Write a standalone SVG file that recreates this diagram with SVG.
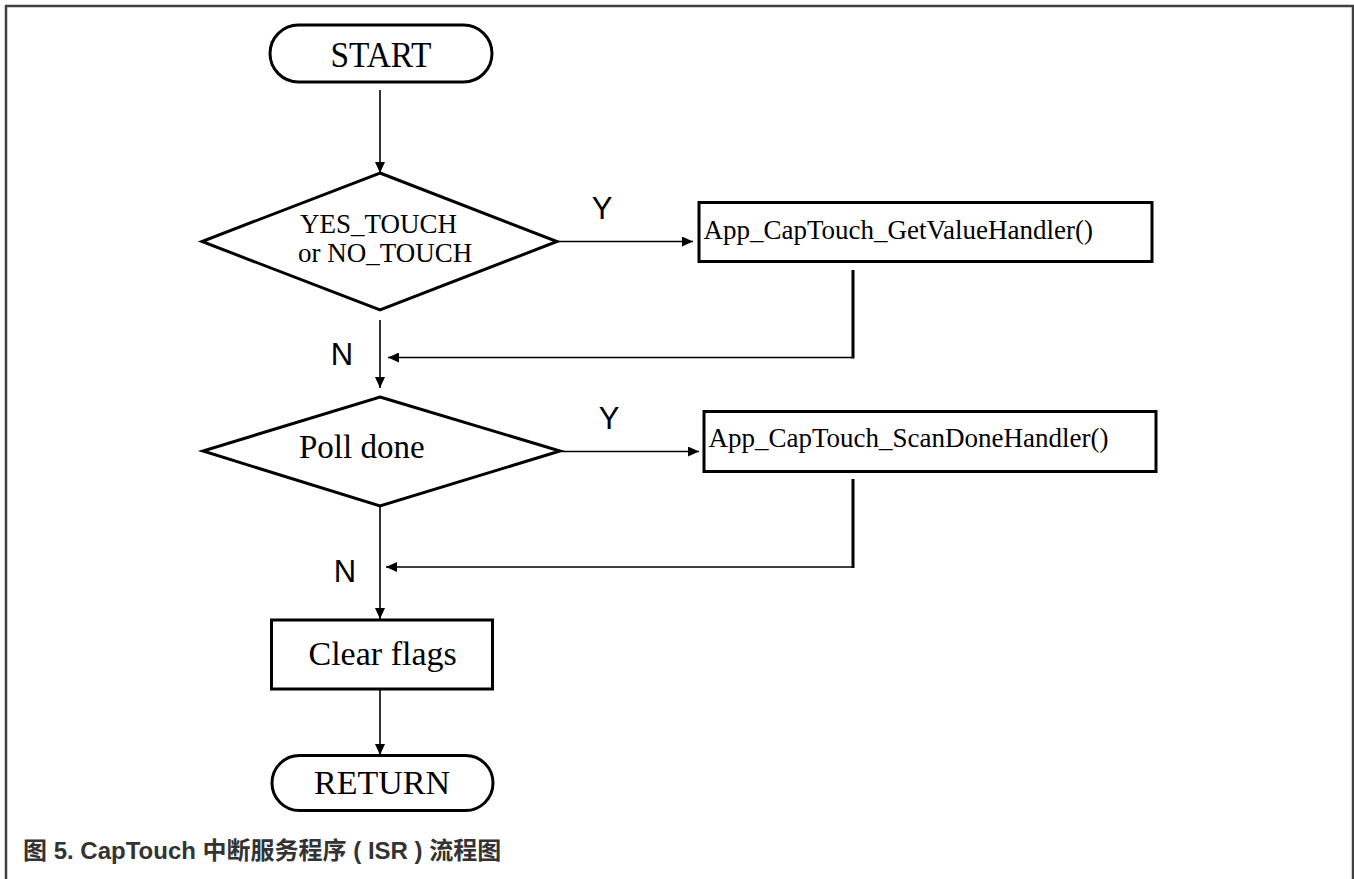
<svg xmlns="http://www.w3.org/2000/svg" width="1354" height="879" viewBox="0 0 1354 879">
<style>
.shape{fill:#fff;stroke:#000;stroke-width:3}
.t{font-family:"Liberation Serif","Times New Roman",serif;fill:#000}
.lbl{font-family:"Liberation Sans",Arial,sans-serif;fill:#000;font-size:31px}
.conn{fill:none;stroke:#000;stroke-width:1.6}
.thick{fill:none;stroke:#000;stroke-width:3}
</style>
<defs>
<marker id="arr" markerUnits="userSpaceOnUse" markerWidth="11" markerHeight="10" refX="11" refY="5" orient="auto">
<path d="M0,0 L11,5 L0,10 z" fill="#000"/>
</marker>
</defs>
<rect width="1354" height="879" fill="#fff"/>
<path d="M6,879 V6 H1353 V879" fill="none" stroke="#404040" stroke-width="2.5"/>

<g id="connectors">
<line class="conn" x1="380" y1="90" x2="380" y2="173" marker-end="url(#arr)"/>
<line class="conn" x1="558" y1="241.5" x2="693" y2="241.5" marker-end="url(#arr)"/>
<line class="thick" x1="853" y1="270" x2="853" y2="358.5"/>
<line class="conn" x1="853" y1="357.5" x2="388" y2="357.5" marker-end="url(#arr)"/>
<line class="conn" x1="380" y1="320" x2="380" y2="388" marker-end="url(#arr)"/>
<line class="conn" x1="562" y1="451.5" x2="699" y2="451.5" marker-end="url(#arr)"/>
<line class="thick" x1="853" y1="479" x2="853" y2="568"/>
<line class="conn" x1="853" y1="567" x2="386" y2="567" marker-end="url(#arr)"/>
<line class="conn" x1="380" y1="506" x2="380" y2="619" marker-end="url(#arr)"/>
<line class="conn" x1="380" y1="690" x2="380" y2="755" marker-end="url(#arr)"/>
<text class="lbl" x="602" y="219" text-anchor="middle">Y</text>
<text class="lbl" x="609" y="429" text-anchor="middle">Y</text>
<text class="lbl" x="342" y="365" text-anchor="middle">N</text>
<text class="lbl" x="345" y="582" text-anchor="middle">N</text>
</g>

<g id="start">
<rect class="shape" x="270" y="25" width="222" height="57" rx="28.5"/>
<text class="t" x="330.5" y="66.5" font-size="35" textLength="101" lengthAdjust="spacingAndGlyphs">START</text>
</g>

<g id="decision-touch">
<polygon class="shape" points="380,173 557,241.5 380,310 202,241.5"/>
<text class="t" x="300" y="233" font-size="27">YES_TOUCH</text>
<text class="t" x="298" y="261.5" font-size="27">or NO_TOUCH</text>
</g>

<g id="get-value-handler">
<rect class="shape" x="699" y="202.5" width="453" height="59"/>
<text class="t" x="703.5" y="239" font-size="27">App_CapTouch_GetValueHandler()</text>
</g>

<g id="decision-poll">
<polygon class="shape" points="380,397 560,451 380,506 203,451"/>
<text class="t" x="299" y="458" font-size="33">Poll done</text>
</g>

<g id="scan-done-handler">
<rect class="shape" x="704" y="411.5" width="452" height="60"/>
<text class="t" x="708.5" y="446.5" font-size="27">App_CapTouch_ScanDoneHandler()</text>
</g>

<g id="clear-flags">
<rect class="shape" x="271.5" y="620" width="221" height="69"/>
<text class="t" x="308.5" y="664.5" font-size="34">Clear flags</text>
</g>

<g id="return">
<rect class="shape" x="272" y="755.5" width="221" height="55" rx="27.5"/>
<text class="t" x="382" y="793.5" font-size="34" text-anchor="middle">RETURN</text>
</g>

<text x="23" y="859" font-family="'Liberation Sans','Noto Sans CJK SC',sans-serif" font-weight="bold" font-size="24" fill="#333">图 5. CapTouch 中断服务程序 ( ISR ) 流程图</text>
</svg>
